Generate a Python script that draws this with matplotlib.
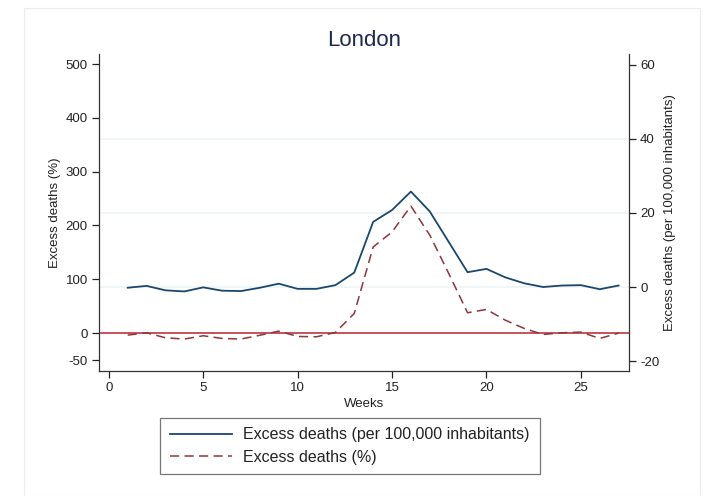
import matplotlib
matplotlib.use("Agg")
import matplotlib.pyplot as plt
from matplotlib.patches import Rectangle

plt.rcParams['font.family'] = ['Liberation Sans', 'DejaVu Sans']
plt.rcParams['axes.unicode_minus'] = False

weeks = list(range(1, 28))
# excess deaths per 100,000 inhabitants (right axis)
per_100k = [-0.2, 0.3, -0.9, -1.2, -0.1, -1.0, -1.1, -0.2, 0.9, -0.5, -0.5, 0.5, 3.9,
            17.6, 20.8, 25.8, 20.4, 12.2, 4.0, 4.9, 2.6, 1.0, 0.0, 0.4, 0.5, -0.6, 0.4]
# excess deaths in % (left axis)
pct = [-3.7, 0.6, -8.7, -11, -4.9, -9.9, -11, -4, 3.7, -6.2, -6.8, 1.2, 36.6,
       160, 188, 236, 182, 111, 37.8, 44, 24, 8.7, -2.5, 0.6, 1.9, -9.9, 0]

left_ticks = [-50, 0, 100, 200, 300, 400, 500]
right_ticks = [-20, 0, 20, 40, 60]
x_ticks = [0, 5, 10, 15, 20, 25]

navy = "#1a476f"
maroon = "#90353b"
txt = "#222222"

fig = plt.figure(figsize=(7.04, 4.96), dpi=100)
fig.patches.append(Rectangle((24 / 704, 0), 676 / 704, 1 - 8 / 496, transform=fig.transFigure,
                             fill=False, edgecolor="#ececec", linewidth=0.8))

ax = fig.add_axes([99 / 704, 1 - 371 / 496, 530 / 704, 317 / 496])
ax2 = ax.twinx()
ax.set_zorder(ax2.get_zorder() + 1)
ax.patch.set_visible(False)

# right axis: grid + per 100k line
for g in [0, 20, 40]:
    ax2.axhline(g, color="#edf3f4", linewidth=1.2, zorder=0)
l1, = ax2.plot(weeks, per_100k, color=navy, linewidth=1.3,
               label="Excess deaths (per 100,000 inhabitants)")
ax2.set_ylim(-22.7, 62.97)
ax2.set_yticks(right_ticks)
ax2.set_ylabel("Excess deaths (per 100,000 inhabitants)", fontsize=9.5, color=txt, labelpad=3)

# left axis: zero line + % line
ax.axhline(0, color="#b5232f", linewidth=1.1)
l2, = ax.plot(weeks, pct, color=maroon, linewidth=1.1, dashes=(6, 3.5),
              label="Excess deaths (%)")
ax.set_ylim(-70.4, 518.6)
ax.set_yticks(left_ticks)
ax.set_xlim(-0.52, 27.55)
ax.set_xticks(x_ticks)
ax.set_ylabel("Excess deaths (%)", fontsize=9.5, color=txt, labelpad=3)
ax.set_xlabel("Weeks", fontsize=9.5, color=txt, labelpad=3)

for a in (ax, ax2):
    a.spines["top"].set_visible(False)
    for s in a.spines.values():
        s.set_color("#333333")
        s.set_linewidth(0.9)
    a.tick_params(labelsize=9.5, colors=txt, length=5, width=0.9, pad=3)
ax.spines["right"].set_visible(False)
ax2.spines["left"].set_visible(False)
ax2.spines["bottom"].set_visible(False)

ax.set_title("London", fontsize=16, color="#1e2b4f", pad=6)

leg = fig.legend([l1, l2], [l1.get_label(), l2.get_label()], loc="center",
                 bbox_to_anchor=(350 / 704, 1 - 446 / 496), fontsize=11.5,
                 frameon=True, fancybox=False, handlelength=3.9, handletextpad=0.7,
                 borderpad=0.6, labelspacing=0.45, borderaxespad=0)
leg.get_frame().set_edgecolor("#555555")
leg.get_frame().set_linewidth(0.9)
for t in leg.get_texts():
    t.set_color(txt)

fig.savefig("out.png", dpi=100, facecolor="white")
